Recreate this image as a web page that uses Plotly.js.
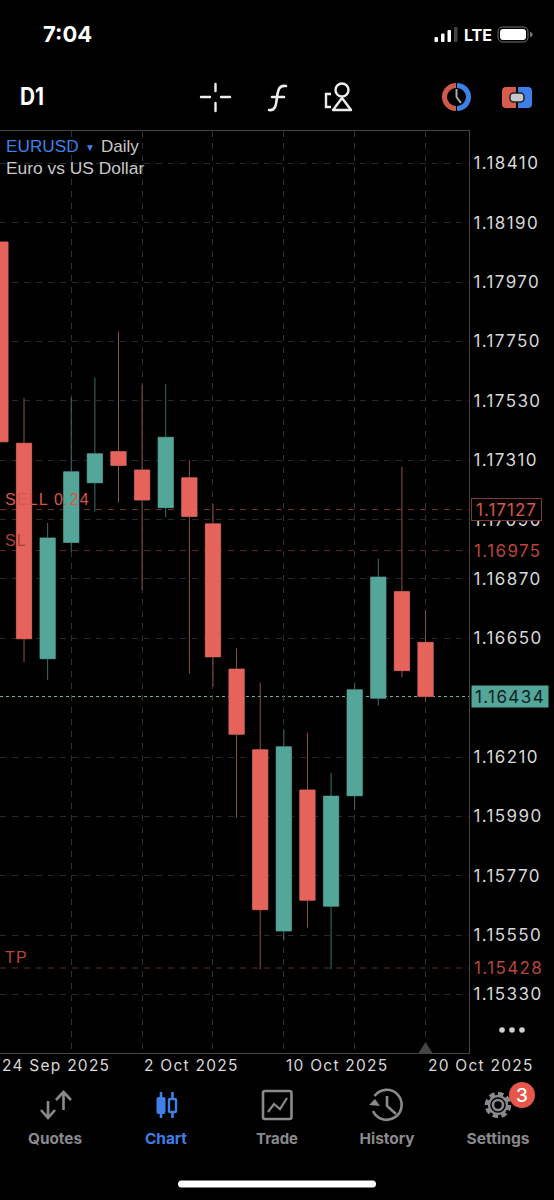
<!DOCTYPE html>
<html><head><meta charset="utf-8">
<script src="https://cdn.plot.ly/plotly-3.0.1.min.js"></script>
<style>
html,body{margin:0;padding:0;background:#000;width:554px;height:1200px;overflow:hidden}
#chart{position:absolute;left:0;top:0;width:554px;height:1200px}
#chrome{position:absolute;left:0;top:0;pointer-events:none}
#chrome text{font-family:Inter,"Liberation Sans",sans-serif}
.ytick text{letter-spacing:1.4px}
</style></head><body>
<div id="chart"></div>
<svg id="chrome" width="554" height="1200" viewBox="0 0 554 1200">
  <text x="43" y="42" font-size="22" font-weight="700" fill="#fff">7:04</text>
  <g fill="#fff"><rect x="434.5" y="37" width="3.5" height="5" rx="1"/><rect x="441" y="33.5" width="3.5" height="8.5" rx="1"/><rect x="447.5" y="30" width="3.5" height="12" rx="1"/></g>
  <rect x="454" y="27" width="3.5" height="15" rx="1" fill="#444"/>
  <text x="464" y="41" font-size="16" font-weight="700" fill="#fff" textLength="28" lengthAdjust="spacingAndGlyphs">LTE</text>
  <rect x="498" y="27" width="30" height="15" rx="4.5" fill="none" stroke="#777" stroke-width="1"/>
  <rect x="500" y="29" width="26" height="11" rx="3" fill="#fff"/>
  <path d="M530 32 a2.5 2.5 0 0 1 0 5z" fill="#777"/>

  <text x="20" y="105" font-size="24" font-weight="700" fill="#fff" textLength="24" lengthAdjust="spacingAndGlyphs">D1</text>
  <g stroke="#eee" stroke-width="2.4" fill="none" stroke-linecap="round">
    <path d="M201 97H210M221 97H230M215.5 84V91M215.5 103V111"/>
    <path d="M269 110 C276 111 276 104 277 97 C278 90 279 85 286 86 M272 97H284" stroke-width="2.6"/>
    <circle cx="342" cy="90" r="6.5"/>
    <path d="M342 98 L351 110 H333 Z" stroke-linejoin="round"/>
    <path d="M331 94 H326 V107 H331" stroke-linecap="butt"/>
  </g>
  <path d="M456 83 A14 14 0 0 0 456 111 L456 106 A9 9 0 0 1 456 88 Z" fill="#cf5a4c"/>
  <path d="M457 83 A14 14 0 0 1 457 111 L457 106 A9 9 0 0 0 457 88 Z" fill="#3f80e8"/>
  <path d="M456.5 89 V97 L461 103" stroke="#aaa" stroke-width="2" fill="none"/>
  <path d="M516 87 H506 a4 4 0 0 0 -4 4 V104 a4 4 0 0 0 4 4 H516 Z" fill="#d85c4e"/>
  <path d="M518 87 H528 a4 4 0 0 1 4 4 V104 a4 4 0 0 1 -4 4 H518 Z" fill="#3f80e8"/>
  <rect x="510" y="93" width="14" height="9" rx="3.5" fill="#c8c8cc" stroke="#222" stroke-width="1.5"/>

  <g fill="#d0d0d0"><circle cx="502" cy="1030" r="2.8"/><circle cx="512" cy="1030" r="2.8"/><circle cx="522" cy="1030" r="2.8"/></g>
  <path d="M418.5 1053 L425.5 1042 L432.5 1053 Z" fill="#444"/>

  <g stroke="#8a8a8e" stroke-width="2.6" fill="none">
    <path d="M48 1101 V1117 M41 1110 L48 1118 L55 1110"/>
    <path d="M63.5 1110 V1093 M56 1100 L63.5 1092 L71 1100"/>
    <rect x="263" y="1091" width="28.5" height="28" rx="2"/>
    <path d="M268 1112 L274 1104 L280 1109 L287 1098" stroke-width="2.2"/>
    <path d="M374.5 1096 A15 15 0 1 1 373 1111"/>
    <path d="M387 1096 V1106 L396 1114"/>
    <circle cx="498" cy="1105" r="5"/>
    <circle cx="498" cy="1105" r="11" stroke-width="4.5" stroke-dasharray="5.2 3.4"/>
    <circle cx="498" cy="1105" r="9" stroke-width="2.4"/>
  </g>
  <path d="M369 1105 L375 1099 L380 1106 Z" fill="#8a8a8e"/>
  <g stroke="#3f80e8" fill="none" stroke-width="2">
    <path d="M161 1092 V1118 M172.5 1092 V1118" stroke-width="2.6"/>
    <rect x="157.5" y="1098" width="7" height="15" rx="1" fill="#3f80e8"/>
    <rect x="169" y="1099" width="7" height="13" rx="1" fill="#000" stroke-width="2.4"/>
  </g>
  <circle cx="522" cy="1095" r="13" fill="#e5574a"/>
  <text x="522" y="1102" font-size="19" font-weight="500" fill="#fff" text-anchor="middle">3</text>
  <g font-size="15" font-weight="700" text-anchor="middle" fill="#8a8a8e">
    <text x="55" y="1144" textLength="54" lengthAdjust="spacingAndGlyphs">Quotes</text>
    <text x="166" y="1144" fill="#3f80e8" textLength="42" lengthAdjust="spacingAndGlyphs">Chart</text>
    <text x="277" y="1144" textLength="42" lengthAdjust="spacingAndGlyphs">Trade</text>
    <text x="387" y="1144" textLength="55" lengthAdjust="spacingAndGlyphs">History</text>
    <text x="498" y="1144" textLength="63" lengthAdjust="spacingAndGlyphs">Settings</text>
  </g>
  <rect x="178" y="1180.5" width="198" height="7" rx="3.5" fill="#fff"/>
</svg>
<script>
const dates = ['24 Sep 2025','25 Sep 2025','26 Sep 2025','29 Sep 2025','30 Sep 2025','1 Oct 2025','2 Oct 2025','3 Oct 2025','6 Oct 2025','7 Oct 2025','8 Oct 2025','9 Oct 2025','10 Oct 2025','13 Oct 2025','14 Oct 2025','15 Oct 2025','16 Oct 2025','17 Oct 2025','20 Oct 2025'];
const opens  = [1.18119,1.17373,1.16574,1.17005,1.17226,1.17342,1.17274,1.17134,1.17245,1.17074,1.16536,1.16237,1.15565,1.16088,1.15657,1.16066,1.16428,1.16823,1.16635];
const highs  = [1.18119,1.17541,1.17078,1.17542,1.17616,1.17787,1.17589,1.17592,1.17311,1.17148,1.16613,1.16486,1.16313,1.16300,1.16152,1.16485,1.16945,1.17286,1.16755];
const lows   = [1.17378,1.16562,1.16496,1.16971,1.17119,1.17153,1.16829,1.17099,1.16518,1.16471,1.15985,1.15423,1.15532,1.15578,1.15423,1.16014,1.16400,1.16506,1.16415];
const closes = [1.17378,1.16648,1.17022,1.17267,1.17334,1.17290,1.17162,1.17395,1.17101,1.16581,1.16294,1.15644,1.16248,1.15679,1.16065,1.16459,1.16877,1.16530,1.16434];

const priceTicks = [1.18410,1.18190,1.17970,1.17750,1.17530,1.17310,1.17090,1.16870,1.16650,1.16210,1.15990,1.15770,1.15550,1.15330];
const priceTickLabels = ['1.18410','1.18190','1.17970','1.17750','1.17530','1.17310','1.17090','1.16870','1.16650','1.16210','1.15990','1.15770','1.15550','1.15330'];
const gridDates = ['29 Sep 2025','2 Oct 2025','7 Oct 2025','10 Oct 2025','15 Oct 2025','20 Oct 2025'];
const labelDates = ['24 Sep 2025','2 Oct 2025','10 Oct 2025','20 Oct 2025'];
const sellPrice = 1.17127, stopPrice = 1.16975, takePrice = 1.15428, lastPrice = 1.16434;

const UP='#54a698', DOWN='#e5635a', UPW='#3a6f68', DOWNW='#8f4f49';
const wicks = {type:'candlestick',x:dates,open:opens,high:highs,low:lows,close:closes,whiskerwidth:0,
  increasing:{line:{color:UPW,width:1},fillcolor:UP},decreasing:{line:{color:DOWNW,width:1},fillcolor:DOWN},hoverinfo:'skip'};
const bodies = {type:'candlestick',x:dates,open:opens,close:closes,
  high:opens.map((o,i)=>Math.max(o,closes[i])),low:opens.map((o,i)=>Math.min(o,closes[i])),whiskerwidth:0,
  increasing:{line:{color:UP,width:0.01},fillcolor:UP},decreasing:{line:{color:DOWN,width:0.01},fillcolor:DOWN},hoverinfo:'skip'};

const hline=(y,color,dash)=>({type:'line',xref:'paper',x0:0,x1:1,yref:'y',y0:y,y1:y,layer:'below',line:{color,width:1,dash}});
const side=(y,text,color,ls,extra)=>Object.assign({xref:'paper',x:472/469,xanchor:'left',yref:'y',y,yanchor:'middle',showarrow:false,
  text:`<span style="letter-spacing:${ls}px">${text}</span>`,font:{family:'Inter',size:17,color}},extra||{});
const pxY=py=>(1053-py)/922, pxX=px=>px/469;
const note=(px,py,text,color,size,ls)=>({xref:'paper',yref:'paper',x:pxX(px),y:pxY(py),xanchor:'left',yanchor:'middle',showarrow:false,borderpad:0,
  text:`<span style="letter-spacing:${ls||0}px">${text}</span>`,font:{family:'Liberation Sans',size,color}});

const annotations=[
  note(5,146,'EURUSD','#3f80e8',17.2),
  note(84,147,'▼','#3f80e8',10),
  note(100,146,'Daily','#c8c8c8',17),
  note(5,168,'Euro vs US Dollar','#c8c8c8',17.4),
  note(4,499,'SELL 0.24','#d9564b',16,1.2),
  note(4,540,'SL','#a8403a',16,1.2),
  note(4,957,'TP','#b8453b',16,1.2),
  side(sellPrice,'1.17127','#d9564b',1,{bgcolor:'#000',bordercolor:'#7d3a32',borderwidth:1,borderpad:1.5,width:66,height:18,align:'center',x:471/469}),
  side(stopPrice,'1.16975','#b8453b',1.4),
  side(takePrice,'1.15428','#b8453b',1.4),
  side(lastPrice,'1.16434','#10211f',1.4,{bgcolor:UP,borderpad:1,width:74,height:19,align:'center',x:471/469})
];
labelDates.forEach(d=>annotations.push({xref:'x',x:d,yref:'paper',y:pxY(1065.5),xanchor:'left',yanchor:'middle',xshift:0,showarrow:false,
  text:`<span style="letter-spacing:1.25px">${d}</span>`,font:{family:'Inter',size:15.5,color:'#d8d8d8'}}));

Plotly.newPlot('chart',[wicks,bodies],{
  width:554,height:1200,paper_bgcolor:'#000',plot_bgcolor:'#000',showlegend:false,boxgap:0.35,boxgroupgap:0,boxmode:'overlay',
  margin:{l:0,r:85,t:131,b:147,pad:0},
  xaxis:{type:'category',categoryorder:'array',categoryarray:dates,range:[-0.017,19.84],rangeslider:{visible:false},
    tickmode:'array',tickvals:gridDates,ticktext:gridDates.map(()=>''),showticklabels:false,ticks:'',
    showgrid:true,gridcolor:'#2e2e38',griddash:'6px,6px',gridwidth:1,zeroline:false,
    showline:true,linecolor:'#444',linewidth:1,mirror:true,fixedrange:true},
  yaxis:{side:'right',range:[1.15113,1.18530],tickmode:'array',tickvals:priceTicks,ticktext:priceTickLabels,
    tickfont:{family:'Inter',size:17,color:'#d8d8d8'},ticks:'',
    showgrid:true,gridcolor:'#282832',griddash:'6px,6px',gridwidth:1,zeroline:false,
    showline:true,linecolor:'#444',linewidth:1,fixedrange:true},
  shapes:[hline(sellPrice,'#70352f','6px,6px'),hline(stopPrice,'#5c2d29','6px,6px'),hline(takePrice,'#5c2d29','6px,6px'),hline(lastPrice,'#6fb9b0','3px,3px')],
  annotations
},{staticPlot:true,displayModeBar:false});
</script>
</body></html>
